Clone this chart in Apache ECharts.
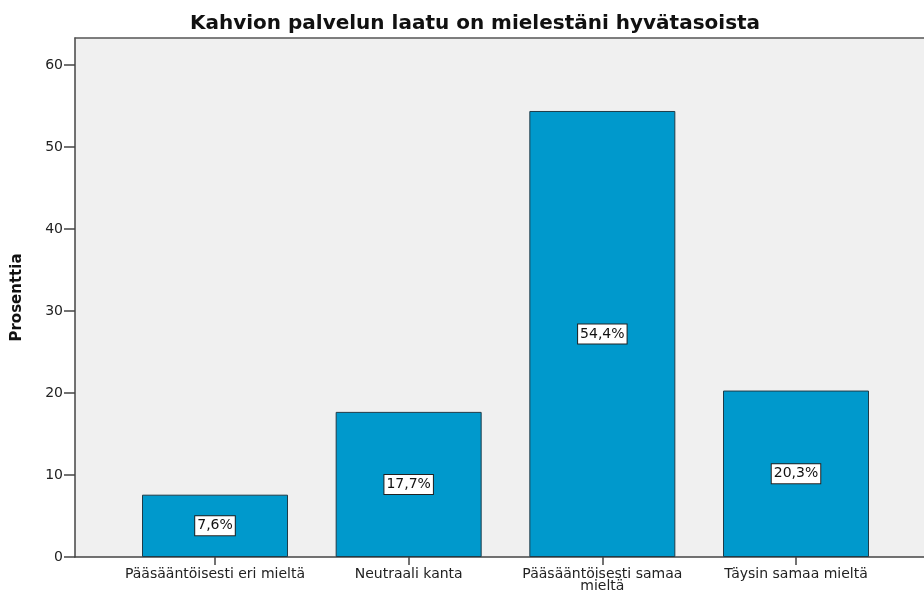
<!DOCTYPE html>
<html>
<head>
<meta charset="utf-8">
<script src="https://cdn.jsdelivr.net/npm/echarts@6/dist/echarts.min.js"></script>
<style>
html, body { margin: 0; padding: 0; background: #fff; }
#chart { width: 924px; height: 594px; }
</style>
</head>
<body>
<div id="chart"></div>
<script>
const categories = ['Pääsääntöisesti eri mieltä', 'Neutraali kanta', 'Pääsääntöisesti samaa\nmieltä', 'Täysin samaa mieltä'];
const percents = [7.6, 17.7, 54.4, 20.3];
const yTicks = [0, 10, 20, 30, 40, 50, 60];
const catPositions = [0, 1, 2, 3];

const FONT = '"DejaVu Sans", Arial, sans-serif';
const AXIS_LINE = { color: '#444', width: 1.5 };

const chart = echarts.init(document.getElementById('chart'));
chart.setOption({
    animation: false,
    backgroundColor: '#fff',
    title: {
        text: 'Kahvion palvelun laatu on mielestäni hyvätasoista',
        left: 470,
        textAlign: 'center',
        top: 9,
        textStyle: { fontFamily: FONT, fontSize: 20, fontWeight: 'bold', color: '#111' },
    },
    grid: {
        left: 75, top: 38, bottom: 37, right: 0,
        show: true, backgroundColor: '#f0f0f0', borderWidth: 0,
    },
    xAxis: [{
        type: 'value',
        min: -0.7229,
        max: 3.6609,
        splitLine: { show: false },
        axisLine: { show: true, onZero: false, lineStyle: AXIS_LINE },
        axisTick: { show: true, customValues: catPositions, length: 8, lineStyle: AXIS_LINE },
        axisLabel: {
            customValues: catPositions,
            formatter: (v) => categories[Math.round(v)],
            color: '#222', fontFamily: FONT, fontSize: 14, lineHeight: 12, margin: 11,
        },
    }, {
        // top frame line of the plot area
        type: 'value',
        position: 'top',
        min: -0.7229,
        max: 3.6609,
        splitLine: { show: false },
        axisLine: { show: true, onZero: false, lineStyle: { color: '#555', width: 1.5 } },
        axisTick: { show: false },
        axisLabel: { show: false },
    }],
    yAxis: {
        type: 'value',
        min: 0,
        max: 63.3,
        name: 'Prosenttia',
        nameLocation: 'middle',
        nameGap: 50,
        nameTextStyle: { fontFamily: FONT, fontSize: 15, fontWeight: 'bold', color: '#111' },
        splitLine: { show: false },
        axisLine: { show: true, onZero: false, lineStyle: AXIS_LINE },
        axisTick: { show: true, customValues: yTicks, length: 11, lineStyle: AXIS_LINE },
        axisLabel: { customValues: yTicks, color: '#222', fontFamily: FONT, fontSize: 14, margin: 12 },
    },
    series: [{
        type: 'bar',
        data: percents.map((p, i) => [catPositions[i], p]),
        barWidth: 146,
        itemStyle: { color: '#0099cc', borderColor: '#1e3b48', borderWidth: 1 },
        label: {
            show: true,
            position: 'inside',
            formatter: (p) => p.value[1].toFixed(1).replace('.', ',') + '%',
            fontFamily: FONT, fontSize: 14, color: '#111',
            backgroundColor: '#fff', borderColor: '#222', borderWidth: 1,
            padding: [3, 2, 2, 2],
        },
    }],
});
</script>
</body>
</html>
